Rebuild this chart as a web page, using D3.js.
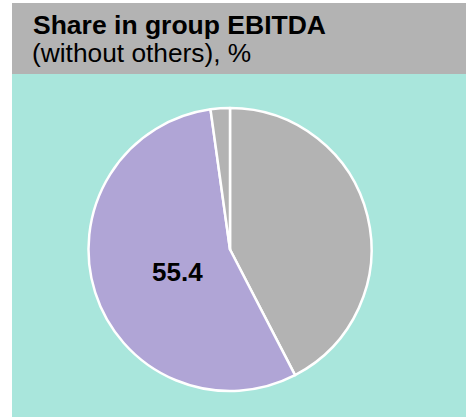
<!DOCTYPE html>
<html>
<head>
<meta charset="utf-8">
<script src="https://cdn.jsdelivr.net/npm/d3@7/dist/d3.min.js"></script>
<style>
  html, body { margin: 0; padding: 0; background: #ffffff; }
  svg { display: block; font-family: "Liberation Sans", Arial, sans-serif; }
</style>
</head>
<body>
<div id="chart"></div>
<script>
// Segments of group EBITDA, clockwise from 12 o'clock
const segments = ["Segment A", "Segment B", "Segment C"];
const shares = [42.4, 55.4, 2.2];
const segmentColors = ["#b3b3b3", "#b0a5d6", "#b3b3b3"];
const labelledSegments = ["Segment B"];

const titleLines = ["Share in group EBITDA", "(without others), %"];

const W = 466, H = 417;
const panelX = 12, headerTop = 3, headerBottom = 74;

const svg = d3.select("#chart").append("svg")
  .attr("width", W).attr("height", H);

// header band
svg.append("rect")
  .attr("x", panelX).attr("y", headerTop)
  .attr("width", W - panelX).attr("height", headerBottom - headerTop)
  .attr("fill", "#b3b3b3");

// plot background
svg.append("rect")
  .attr("x", panelX).attr("y", headerBottom)
  .attr("width", W - panelX).attr("height", H - headerBottom)
  .attr("fill", "#a9e6dc");

svg.append("text")
  .attr("x", 33).attr("y", 33.5)
  .attr("font-size", 26.5).attr("font-weight", "bold").attr("fill", "#000")
  .text(titleLines[0]);
svg.append("text")
  .attr("x", 32).attr("y", 62)
  .attr("font-size", 26.3).attr("fill", "#000")
  .text(titleLines[1]);

const cx = 230, cy = 249.5, r = 141.5;

const pie = d3.pie().sort(null).value(d => d.value);
const data = segments.map((s, i) => ({ name: s, value: shares[i], color: segmentColors[i] }));
const arcs = pie(data);

const arc = d3.arc().innerRadius(0).outerRadius(r);
const labelArc = d3.arc().innerRadius(r * 0.39).outerRadius(r * 0.39);

const g = svg.append("g").attr("transform", `translate(${cx},${cy})`);

g.selectAll("path.slice")
  .data(arcs)
  .join("path")
  .attr("class", "slice")
  .attr("d", arc)
  .attr("fill", d => d.data.color)
  .attr("stroke", "#ffffff")
  .attr("stroke-width", 2.5)
  .attr("stroke-linejoin", "round");

g.selectAll("text.value")
  .data(arcs.filter(d => labelledSegments.includes(d.data.name)))
  .join("text")
  .attr("class", "value")
  .attr("transform", d => `translate(${labelArc.centroid(d)})`)
  .attr("dy", "0.55em")
  .attr("text-anchor", "middle")
  .attr("font-size", 26)
  .attr("font-weight", "bold")
  .attr("fill", "#000")
  .text(d => d3.format(".1f")(d.data.value));
</script>
</body>
</html>
